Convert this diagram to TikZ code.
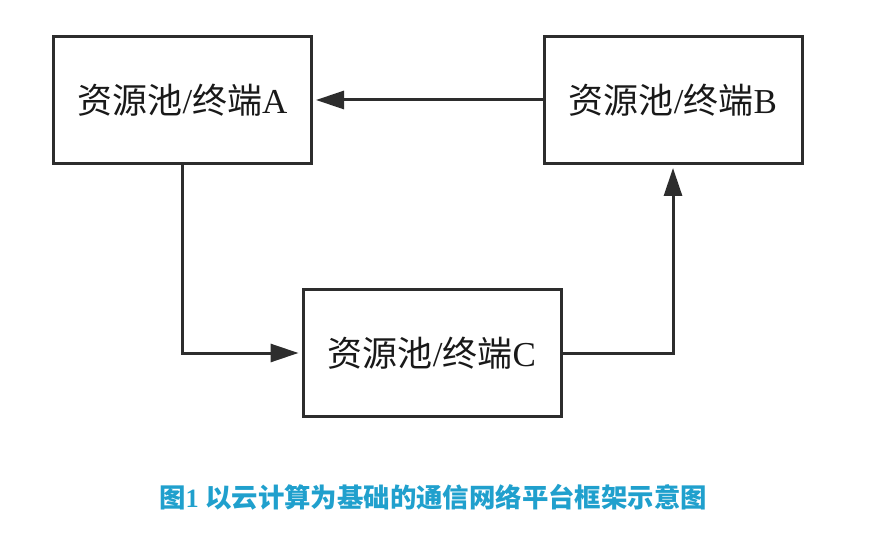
\documentclass[tikz,border=0pt]{standalone}
\usepackage{fontspec}
\setmainfont{Liberation Serif}
\newfontfamily\cjk{Noto Sans CJK SC}
\usetikzlibrary{arrows.meta,positioning}
\definecolor{capblue}{RGB}{32,160,205}
\definecolor{linegray}{RGB}{45,45,45}
\tikzset{pool/.style={draw=linegray, line width=3pt, rectangle, minimum width=258pt, minimum height=127pt, inner sep=0pt, font=\fontsize{35}{35}\selectfont, text=black!90}}
\tikzset{flow/.style={draw=linegray, line width=3pt, shorten >=3pt, -{Triangle[length=28pt,width=18pt]}}}

\begin{document}
\begin{tikzpicture}[x=1pt,y=-1pt]
    \useasboundingbox (0,0) rectangle (877,537);
    
    % Resource pools
    \node[pool] (poolA) at (182.5,100) {{\cjk 资源池}/{\cjk 终端}A};
    \node[pool] (poolB) at (673,100) {{\cjk 资源池}/{\cjk 终端}B};
    \node[pool] (poolC) at (432,353) {{\cjk 资源池}/{\cjk 终端}C};
    
    % Connections
    \draw[flow] (poolB.west) -- (poolA.east);
    \draw[flow] (poolA.south) |- (poolC.west);
    \draw[flow] (poolC.east) -| (poolB.south);
    
    % Caption
    \node[text=capblue, font=\fontsize{26.4}{26.4}\selectfont\bfseries] (caption) at (433,497) {{\cjk 图}1 {\cjk 以云计算为基础的通信网络平台框架示意图}};
\end{tikzpicture}
\end{document}
